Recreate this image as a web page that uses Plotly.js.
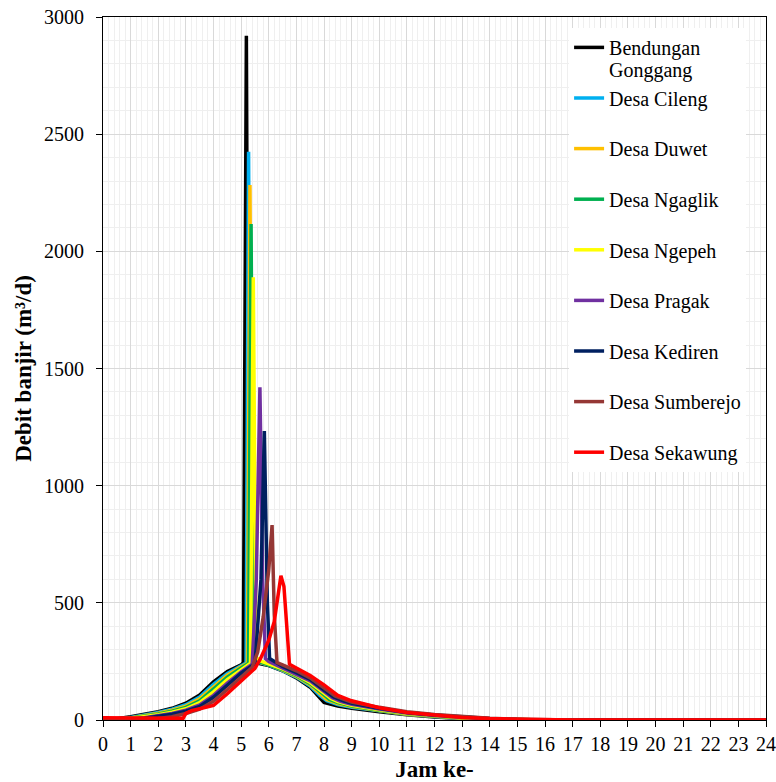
<!DOCTYPE html>
<html>
<head>
<meta charset="utf-8">
<script src="https://cdn.plot.ly/plotly-3.0.1.min.js"></script>
<style>html,body{margin:0;padding:0;background:#fff;}#chart{width:776px;height:782px;}</style>
</head>
<body>
<div id="chart"></div>
<script>
// Series names
const seriesNames = ["Bendungan","Desa Cileng","Desa Duwet","Desa Ngaglik","Desa Ngepeh","Desa Pragak","Desa Kediren","Desa Sumberejo","Desa Sekawung"];
const firstNameSecondLine = "Gonggang";
const seriesColors = ["#000000","#00B0F0","#FFC000","#00B050","#FFFF00","#7030A0","#002060","#953735","#FF0000"];

// Time (Jam ke-) and discharge (m3/d) for each location
const tBendungan = [0,0.5,1,1.5,2,2.5,3,3.5,4,4.5,5,5.08,5.19,5.28,5.45,5.7,6,6.5,7,7.5,7.8,8,8.5,9,10,11,12,13,14,15,16,24];
const qBendungan = [0,5,14,24,35,50,72,107,163,207,235,245,2920,262,248,240,232,210,180,140,100,75,60,50,35,22,13,6,3,1,0,0];

const tCileng = [0,0.5,1,1.5,2,2.5,3,3.5,4,4.5,5,5.18,5.27,5.36,5.5,5.8,6,6.5,7,7.5,7.85,8.1,8.5,9,10,11,12,13,14,15,16,24];
const qCileng = [0,3,11,21,32,46,65,98,152,199,231,243,2425,262,250,240,234,211,183,145,105,82,66,54,38,24,15,7,3,1,0,0];

const tDuwet = [0,0.5,1,1.5,2,2.5,3,3.5,4,4.5,5,5.23,5.32,5.41,5.55,5.8,6,6.5,7,7.5,7.9,8.1,8.5,9,10,11,12,13,14,15,16,24];
const qDuwet = [0,2,9,18,29,42,59,90,142,191,227,242,2283,262,250,241,236,213,186,150,110,88,70,57,40,25,16,8,4,1,0,0];

const tNgaglik = [0,0.5,1,1.5,2,2.5,3,3.5,4,4.5,5,5.27,5.36,5.45,5.6,5.8,6,6.5,7,7.5,7.95,8.2,8.5,9,10,11,12,13,14,15,16,24];
const qNgaglik = [0,2,8,16,26,38,54,82,132,183,222,242,2117,265,251,243,238,215,189,155,112,88,74,60,42,27,17,9,4,2,0,0];

const tNgepeh = [0,0.5,1,1.5,2,2.5,3,3.5,4,4.5,5,5.34,5.44,5.54,5.7,6,6.5,7,7.5,8,8.25,8.5,9,10,11,12,13,14,15,16,24];
const qNgepeh = [0,1,6,13,22,33,48,74,120,172,215,242,1889,268,252,240,218,192,160,115,92,78,63,44,28,18,10,5,2,0,0];

const tPragak = [0,0.5,1,1.5,2,2.5,3,3.5,4,4.5,5,5.4,5.55,5.68,5.78,5.88,6,6.5,7,7.5,8,8.3,8.6,9,10,11,12,13,14,15,16,24];
const qPragak = [0,1,4,10,18,28,42,64,105,158,205,238,600,1420,600,262,250,223,197,167,122,95,80,67,47,30,19,11,5,2,0,0];

const tKediren = [0,0.5,1,1.5,2,2.5,3,3.5,4,4.5,5,5.5,5.72,5.84,5.95,6.03,6.5,7,7.5,8,8.35,8.7,9,10,11,12,13,14,15,16,24];
const qKediren = [0,1,3,8,15,25,38,58,97,150,200,240,600,1233,500,262,228,202,173,128,98,82,71,50,32,21,12,6,2,1,0];

const tSumberejo = [0,1,2,2.5,3,3.5,4,4.5,5,5.4,5.6,5.8,6,6.12,6.2,6.3,6.5,7,7.5,8,8.4,8.8,9,10,11,12,13,14,15,16,17,24];
const qSumberejo = [0,2,6,14,28,46,80,130,185,225,290,440,640,832,450,245,235,210,180,137,103,85,77,54,35,23,14,7,3,1,0,0];

const tSekawung = [0,1,2,2.8,2.9,3,3.2,3.5,4,4.5,5,5.5,5.7,6,6.2,6.35,6.44,6.55,6.65,6.75,7,7.5,8,8.5,9,10,11,12,13,14,15,16,17,24];
const qSekawung = [10,10,10,10,7,28,40,48,62,112,165,220,262,340,420,560,616,570,380,238,222,190,150,105,82,52,32,20,11,6,3,1,0,0];

const xTickVals = [0,1,2,3,4,5,6,7,8,9,10,11,12,13,14,15,16,17,18,19,20,21,22,23,24];
const yTickVals = [0,500,1000,1500,2000,2500,3000];

const allT = [tBendungan,tCileng,tDuwet,tNgaglik,tNgepeh,tPragak,tKediren,tSumberejo,tSekawung];
const allQ = [qBendungan,qCileng,qDuwet,qNgaglik,qNgepeh,qPragak,qKediren,qSumberejo,qSekawung];

const FONT = 'Liberation Serif, Times New Roman, serif';

const traces = seriesNames.map((name, i) => ({
  x: allT[i],
  y: allQ[i],
  type: 'scatter',
  mode: 'lines',
  name: name,
  legendgroup: 'g' + i,
  line: {color: seriesColors[i], width: 3.5},
  hoverinfo: 'x+y+name'
}));

const layout = {
  width: 776,
  height: 782,
  margin: {l: 103, r: 10, t: 17, b: 62},
  paper_bgcolor: '#ffffff',
  plot_bgcolor: '#ffffff',
  font: {family: FONT, size: 20, color: '#000'},
  showlegend: true,
  legend: {
    x: 0.703, y: 0.9845, xanchor: 'left', yanchor: 'top',
    bgcolor: '#ffffff', borderwidth: 0,
    font: {family: FONT, size: 20, color: '#000'},
    valign: 'top',
    traceorder: 'grouped',
    tracegroupgap: 21.6
  },
  annotations: [{
    text: firstNameSecondLine,
    xref: 'paper', yref: 'paper',
    x: 0.7602, y: 0.9235, xanchor: 'left', yanchor: 'middle',
    showarrow: false,
    font: {family: FONT, size: 20, color: '#000'}
  }],
  xaxis: {
    range: [0, 24],
    tickmode: 'array', tickvals: xTickVals, ticktext: xTickVals.map(String),
    ticks: 'outside', ticklen: 6, tickcolor: '#000', tickwidth: 1,
    showline: true, linecolor: '#000', linewidth: 1, mirror: true,
    showgrid: true, gridcolor: '#d9d9d9', gridwidth: 1,
    minor: {dtick: 0.2, showgrid: true, gridcolor: '#efefef', gridwidth: 1, ticks: ''},
    zeroline: false,
    tickfont: {family: FONT, size: 20, color: '#000'},
    title: {text: 'Jam ke-', font: {family: FONT, size: 23, color: '#000', weight: 'bold'}, standoff: 7}
  },
  yaxis: {
    range: [0, 3000],
    tickmode: 'array', tickvals: yTickVals, ticktext: yTickVals.map(String),
    ticks: 'outside', ticklen: 6, tickcolor: '#000', tickwidth: 1,
    ticklabelstandoff: 8,
    showline: true, linecolor: '#000', linewidth: 1, mirror: true,
    showgrid: true, gridcolor: '#d9d9d9', gridwidth: 1,
    minor: {dtick: 100, showgrid: true, gridcolor: '#efefef', gridwidth: 1, ticks: ''},
    zeroline: false,
    tickfont: {family: FONT, size: 20, color: '#000'},
    title: {text: 'Debit banjir (m³/d)', font: {family: FONT, size: 23, color: '#000', weight: 'bold'}, standoff: 5}
  }
};

Plotly.newPlot('chart', traces, layout, {staticPlot: true, displayModeBar: false});
</script>
</body>
</html>
